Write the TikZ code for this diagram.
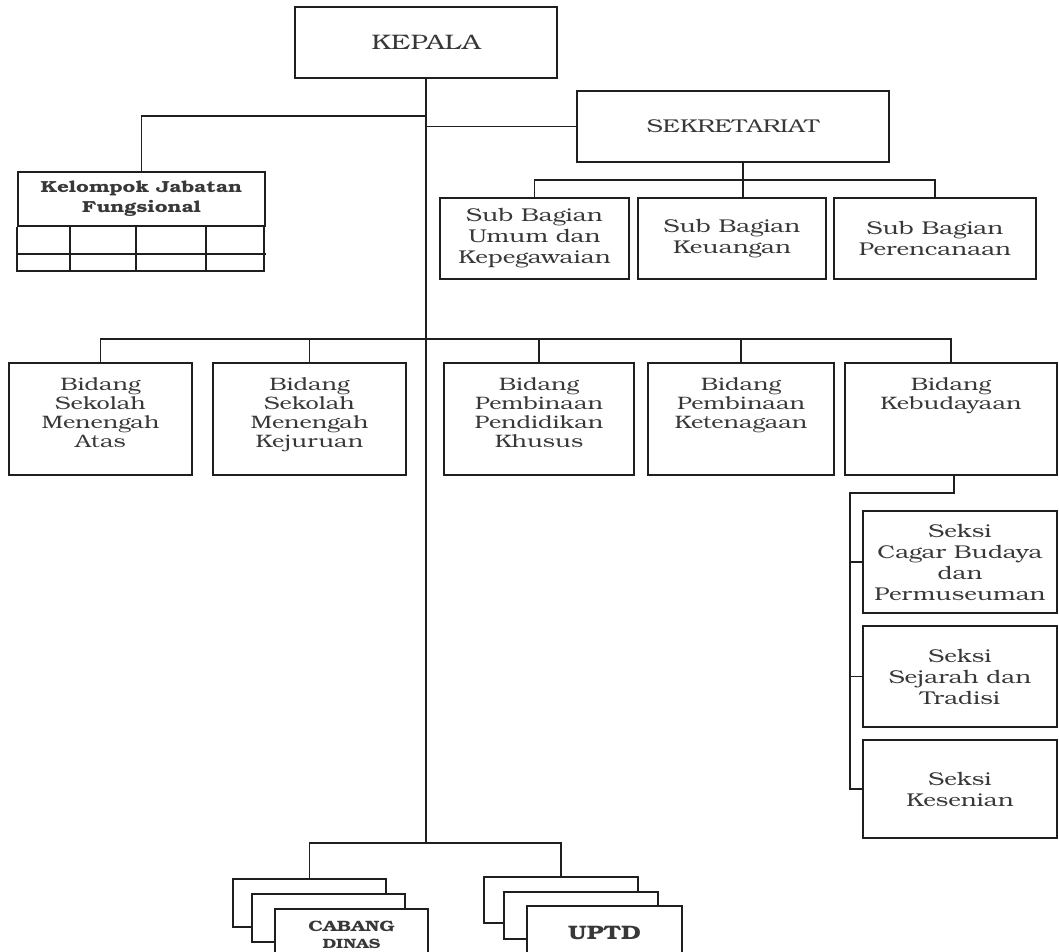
\documentclass[tikz,border=0pt]{standalone}
\usepackage{fontspec}
\setmainfont{texgyrebonum-regular.otf}[BoldFont=texgyrebonum-bold.otf, FakeStretch=1.3]
\definecolor{lc}{gray}{0.12}
\definecolor{tc}{gray}{0.22}
\begin{document}
\begin{tikzpicture}[x=1pt,y=-1pt,line width=1.7pt,
  box/.style={draw=lc, fill=white, inner sep=0pt, align=center, text=tc},
  ln/.style={draw=lc, line width=1.7pt},
  ftop/.style={font=\fontsize{21}{22}\selectfont},
  fsek/.style={font=\fontsize{18.5}{22}\selectfont},
  fsub/.style={font=\fontsize{18.5}{21}\selectfont},
  btxt/.style={inner sep=0pt, align=center, text=tc, anchor=north, font=\fontsize{18}{18.8}\selectfont}]
\useasboundingbox (0,0) rectangle (1059,951);
\clip (0,0) rectangle (1059,951);
% top
\node[box, ftop, minimum width=262, minimum height=71] (kepala) at (426,42.5) {KEPALA};
\node[box, fsek, minimum width=312, minimum height=71] (sek) at (733,126.5) {SEKRETARIAT};
\node[box, minimum width=247, minimum height=54, font=\bfseries\fontsize{16}{20}\selectfont] (kjf) at (141.5,199) {Kelompok Jabatan\\Fungsional};
\draw[ln] (kjf.south west) -- ++(0,44) -- ++(247,0) -- ++(0,-44);
\draw[ln] ([yshift=-27pt]kjf.south west) -- ([yshift=-27pt]kjf.south east);
\foreach \dx in {53,119,189} \draw[ln] ([xshift=\dx pt]kjf.south west) -- ++(0,44);
% sub bagian
\node[box, fsub, minimum width=189, minimum height=81] (sub1) at (534.5,238.5) {Sub Bagian\\Umum dan\\Kepegawaian};
\node[box, fsub, minimum width=188, minimum height=81] (sub2) at (732,238.5) {Sub Bagian\\Keuangan};
\node[box, fsub, minimum width=202, minimum height=81] (sub3) at (935,238.5) {Sub Bagian\\Perencanaan};
% bidang
\node[box, minimum width=183, minimum height=112] (bA) at (100.5,419) {};
\node[box, minimum width=193, minimum height=112] (bB) at (309.5,419) {};
\node[box, minimum width=190, minimum height=112] (bC) at (539,419) {};
\node[box, minimum width=186, minimum height=112] (bD) at (741,419) {};
\node[box, minimum width=212, minimum height=112] (bE) at (951,419) {};
\node[btxt] (tA) at (bA.north |- 0,377) {Bidang\\Sekolah\\Menengah\\Atas};
\node[btxt] (tB) at (bB.north |- 0,377) {Bidang\\Sekolah\\Menengah\\Kejuruan};
\node[btxt] (tC) at (bC.north |- 0,377) {Bidang\\Pembinaan\\Pendidikan\\Khusus};
\node[btxt] (tD) at (bD.north |- 0,377) {Bidang\\Pembinaan\\Ketenagaan};
\node[btxt] (tE) at (bE.north |- 0,377) {Bidang\\Kebudayaan};
% seksi
\node[box, fsub, minimum width=194, minimum height=102] (s1) at (960,562) {Seksi\\Cagar Budaya\\dan\\Permuseuman};
\node[box, fsub, minimum width=194, minimum height=101] (s2) at (960,676.5) {Seksi\\Sejarah dan\\Tradisi};
\node[box, fsub, minimum width=194, minimum height=98] (s3) at (960,789) {Seksi\\Kesenian};
% cabang dinas stack
\node[box, minimum width=153, minimum height=48] (cb1) at (309.5,903) {};
\node[box, minimum width=153, minimum height=48] (cb2) at (328.5,918) {};
\node[box, minimum width=153, minimum height=52, font=\bfseries\fontsize{15}{17}\selectfont] (cb3) at (351.5,935) {CABANG\\{\fontsize{13.5}{15}\selectfont DINAS}};
% uptd stack
\node[box, minimum width=154, minimum height=46] (up1) at (561,900) {};
\node[box, minimum width=154, minimum height=47] (up2) at (581,915.5) {};
\node[box, minimum width=155, minimum height=54, font=\bfseries\fontsize{19.5}{22}\selectfont] (up3) at (604.5,933) {UPTD};
% connectors
\coordinate (jB) at (kepala.south |- 0,843);
\draw[ln] (kepala.south) -- (jB);
\draw[ln] (kepala.south |- 0,116) -| (kjf.north);
\draw[ln] (kepala.south |- sek.west) -- (sek.west);
\draw[ln] ([xshift=10pt]sek.south) -- ([xshift=10pt]sek.south |- sub2.north);
\draw[ln] (sub1.north) |- (sub3.north |- 0,180) -- (sub3.north);
\draw[ln] (bA.north) |- (bE.north |- 0,339) -- (bE.north);
\foreach \b in {bB,bC,bD} \draw[ln] (\b.north) -- (\b.north |- 0,339);
\coordinate (kv) at (850,493);
\draw[ln] ([xshift=3pt]bE.south) |- (kv) -- (kv |- s3.west) -- (s3.west);
\draw[ln] (kv |- s1.west) -- (s1.west);
\draw[ln] (kv |- s2.west) -- (s2.west);
\draw[ln] (cb1.north) |- (up1.north |- jB) -- (up1.north);
\end{tikzpicture}
\end{document}
